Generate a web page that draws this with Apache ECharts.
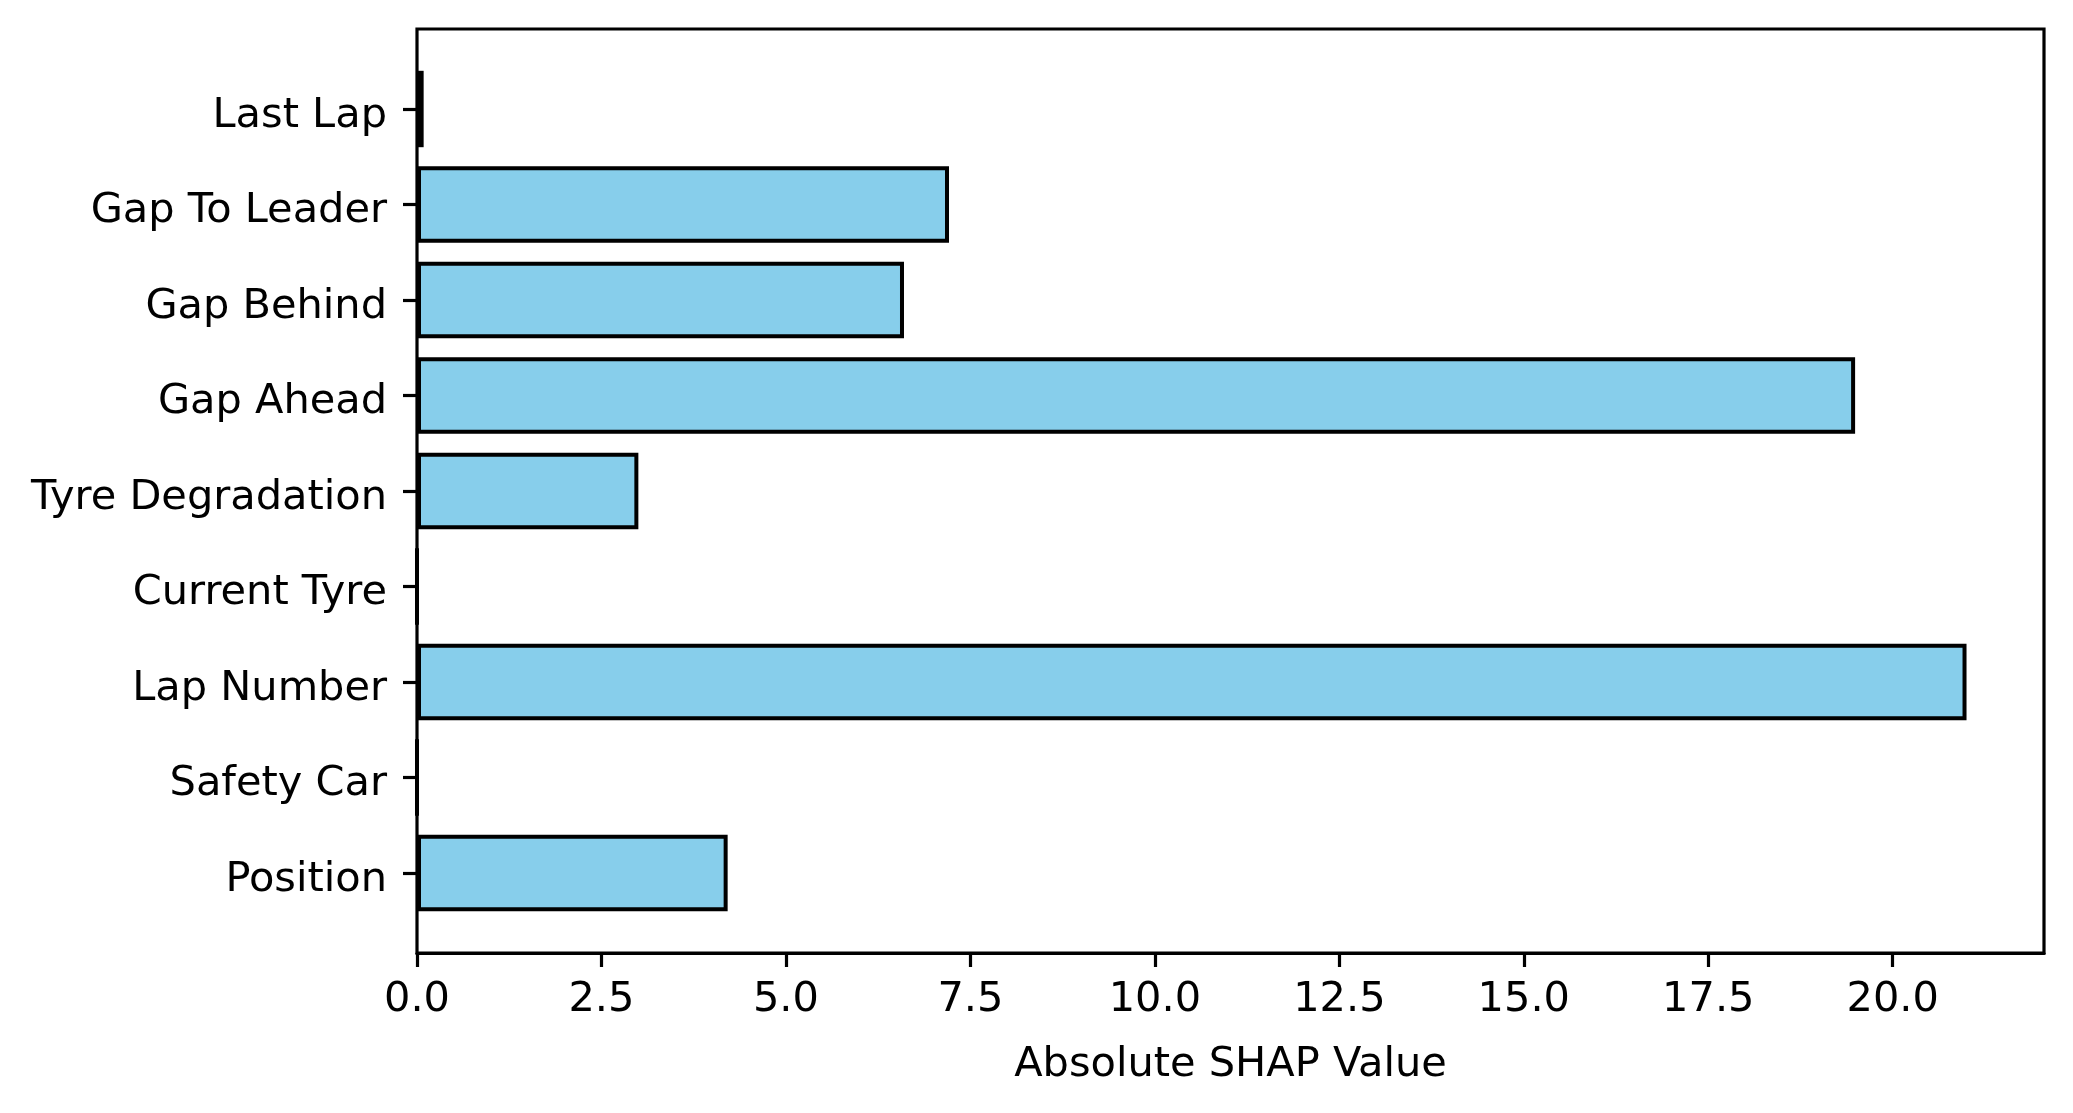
<!DOCTYPE html>
<html>
<head>
<meta charset="utf-8">
<script src="https://cdn.jsdelivr.net/npm/echarts@6/dist/echarts.min.js"></script>
<style>
  html, body { margin: 0; padding: 0; background: #fff; }
  #chart { width: 2073px; height: 1113px; }
</style>
</head>
<body>
<div id="chart"></div>
<script>
// features, bottom to top
var features = ['Position', 'Safety Car', 'Lap Number', 'Current Tyre', 'Tyre Degradation',
                'Gap Ahead', 'Gap Behind', 'Gap To Leader', 'Last Lap'];
var shapValues = [4.21, 0, 21.0, 0, 3.0, 19.49, 6.6, 7.21, 0.09];
var xMax = 22.05;

var font = 'DejaVu Sans';
var fs = 41.5;
var chart = echarts.init(document.getElementById('chart'));

chart.setOption({
  backgroundColor: '#fff',
  animation: false,
  grid: [
    // frame (matplotlib axes with margins)
    { left: 417, right: 29, top: 29, bottom: 160, show: true, borderColor: '#000', borderWidth: 3.2, backgroundColor: 'transparent' },
    // bars: category bands only
    { left: 417, right: 29, top: 61.25, bottom: 192.25 }
  ],
  xAxis: [
    {
      gridIndex: 0, type: 'value', min: 0, max: xMax, interval: 2.5,
      splitLine: { show: false },
      axisLine: { show: true, lineStyle: { color: '#000', width: 3.2 } },
      axisTick: { show: true, inside: false, length: 14, lineStyle: { color: '#000', width: 3.2 } },
      axisLabel: {
        margin: 26, fontFamily: font, fontSize: fs, color: '#000',
        showMaxLabel: false,
        formatter: function (v) { return v.toFixed(1); }
      },
      name: 'Absolute SHAP Value', nameLocation: 'middle', nameGap: 91,
      nameTextStyle: { fontFamily: font, fontSize: fs, color: '#000' }
    },
    {
      gridIndex: 1, type: 'value', min: 0, max: xMax, show: false
    }
  ],
  yAxis: [
    { gridIndex: 0, type: 'value', min: 0, max: 1, show: false },
    {
      gridIndex: 1, type: 'category', data: features,
      axisLine: { show: false },
      axisTick: { show: true, alignWithLabel: true, length: 14, lineStyle: { color: '#000', width: 3.2 } },
      axisLabel: {
        margin: 30,
        formatter: function (v) { return '{a|' + v + '}'; },
        rich: { a: { fontFamily: font, fontSize: fs, color: '#000', padding: [14, 0, 0, 0] } }
      },
      splitLine: { show: false }
    }
  ],
  series: [{
    type: 'bar',
    xAxisIndex: 1,
    yAxisIndex: 1,
    data: shapValues,
    barWidth: '80%',
    itemStyle: { color: '#87CEEB', borderColor: '#000', borderWidth: 4 }
  }]
});
</script>
</body>
</html>
